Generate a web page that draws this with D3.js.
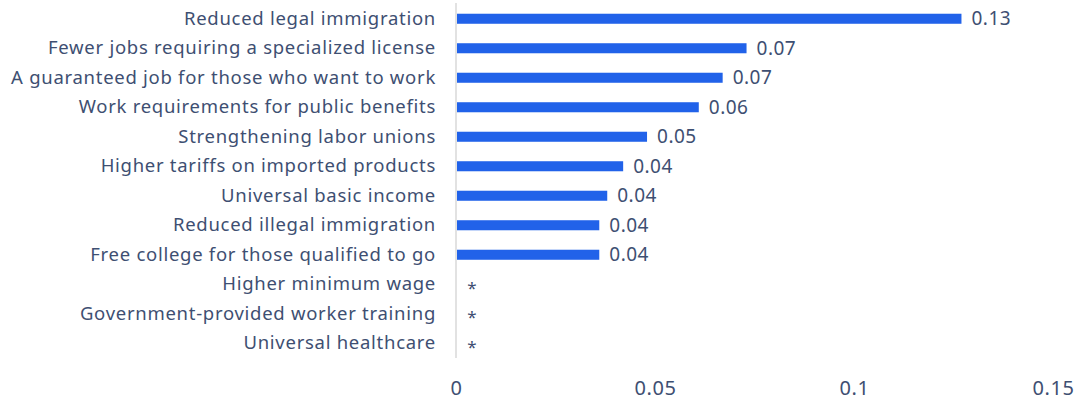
<!DOCTYPE html>
<html>
<head>
<meta charset="utf-8">
<script src="https://cdn.jsdelivr.net/npm/d3@7"></script>
<style>
  body { margin: 0; background: #fff; }
  text { font-family: "Noto Sans", Lato, sans-serif; }
</style>
</head>
<body>
<div id="chart"></div>
<script>
// categories, top to bottom
const categories = [
  "Reduced legal immigration",
  "Fewer jobs requiring a specialized license",
  "A guaranteed job for those who want to work",
  "Work requirements for public benefits",
  "Strengthening labor unions",
  "Higher tariffs on imported products",
  "Universal basic income",
  "Reduced illegal immigration",
  "Free college for those qualified to go",
  "Higher minimum wage",
  "Government-provided worker training",
  "Universal healthcare"
];
// null = not significant (shown as *)
const values = [0.127, 0.073, 0.067, 0.061, 0.048, 0.042, 0.038, 0.036, 0.036, null, null, null];
const xTicks = [0, 0.05, 0.1, 0.15];

const w = 1083, h = 404;
const padLeft = 456, padRight = 1053, padTop = 4, padBottom = 358;
const fontFam = "'Noto Sans', Lato, sans-serif";

const svg = d3.select("#chart").append("svg").attr("width", w).attr("height", h);

const x = d3.scaleLinear().domain([0, 0.15]).range([padLeft, padRight]);
const y = d3.scaleBand().domain(categories).range([padTop, padBottom]).paddingInner(0.66).paddingOuter(0.33);

const textColor = "#3e4f72";

// axis line
svg.append("line")
  .attr("x1", padLeft).attr("x2", padLeft)
  .attr("y1", padTop - 1).attr("y2", padBottom)
  .attr("stroke", "#d9d9d9").attr("stroke-width", 1.5);

// bottom axis with tick labels only
const xAxis = d3.axisBottom(x).tickValues(xTicks).tickFormat(d => d === 0 ? "0" : d3.format("")(d)).tickSize(0).tickPadding(0);
const gx = svg.append("g").attr("transform", "translate(0,381)").call(xAxis);
gx.select(".domain").remove();
gx.selectAll("text").attr("font-size", 20).attr("letter-spacing", 0.6).attr("fill", textColor).attr("font-family", fontFam);

// category labels
const yAxis = d3.axisLeft(y).tickSize(0).tickPadding(0);
const gy = svg.append("g").attr("transform", "translate(436,0)").call(yAxis);
gy.select(".domain").remove();
gy.selectAll("text").attr("font-size", 18.5).attr("letter-spacing", 0.72).attr("fill", textColor).attr("font-family", fontFam);

const rows = categories.map((c, i) => ({ c, v: values[i] }));

// bars
svg.selectAll("rect.bar")
  .data(rows.filter(d => d.v !== null))
  .enter().append("rect")
  .attr("class", "bar")
  .attr("x", x(0) + 1)
  .attr("y", d => y(d.c))
  .attr("width", d => x(d.v) - x(0) - 1)
  .attr("height", y.bandwidth())
  .attr("fill", "#2162e9");

// value labels
svg.selectAll("text.val")
  .data(rows)
  .enter().append("text")
  .attr("class", "val")
  .attr("x", d => d.v === null ? x(0) + 16 : x(d.v) + 10)
  .attr("y", d => y(d.c) + y.bandwidth() / 2)
  .attr("dy", d => d.v === null ? "0.55em" : "0.35em")
  .attr("text-anchor", d => d.v === null ? "middle" : "start")
  .attr("font-size", d => d.v === null ? 17 : 19)
  .attr("letter-spacing", d => d.v === null ? 0 : 0.5)
  .attr("fill", textColor)
  .text(d => d.v === null ? "*" : d3.format(".2f")(d.v));
</script>
</body>
</html>
